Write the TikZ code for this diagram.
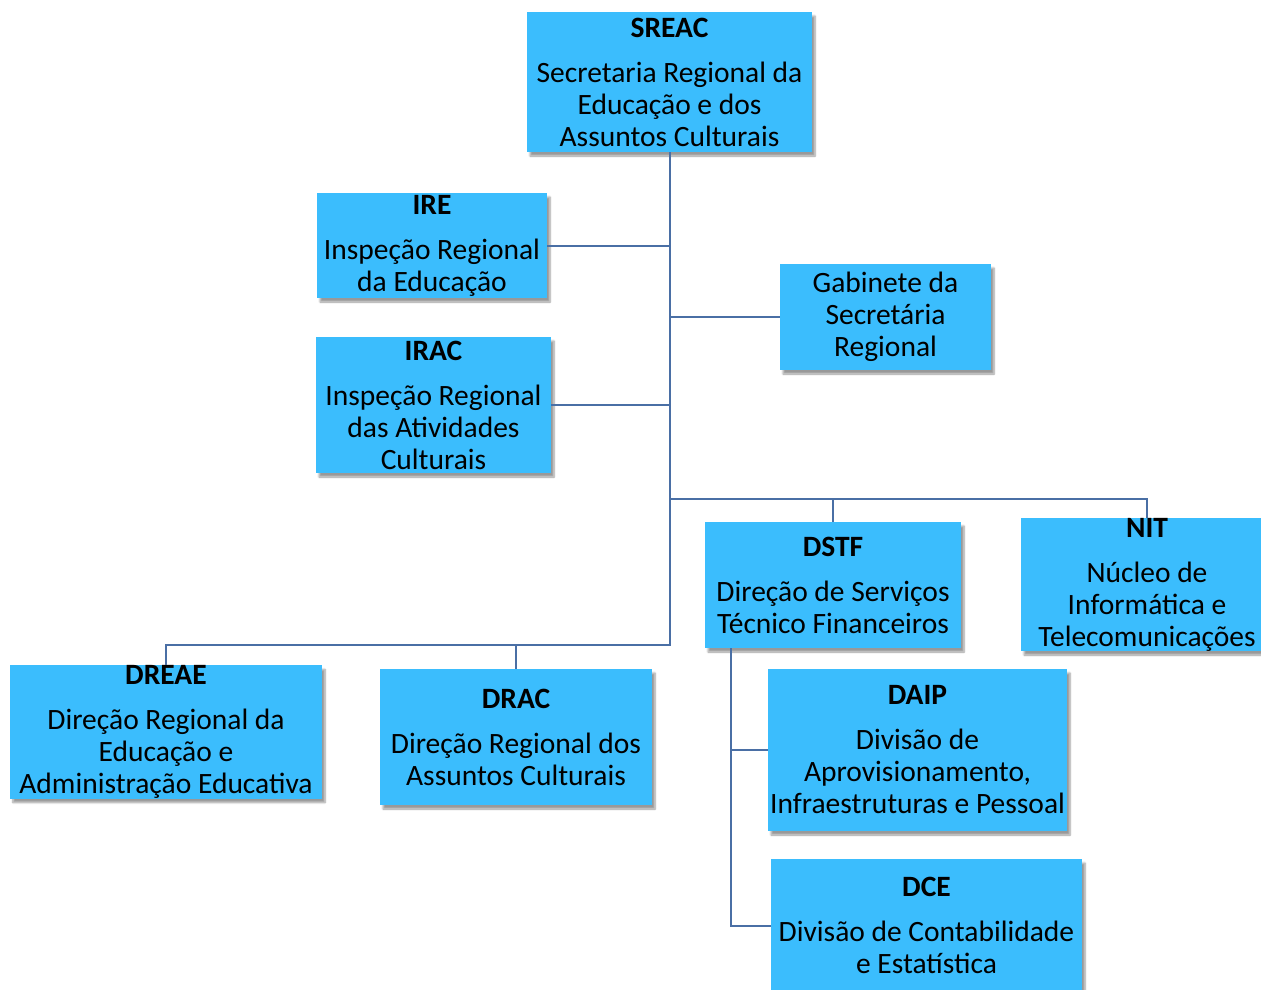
\documentclass[tikz,border=0pt]{standalone}
\usepackage{fontspec}
\setmainfont{Carlito}
\usetikzlibrary{shadows.blur}
\definecolor{boxblue}{RGB}{59,189,253}
\definecolor{linkblue}{RGB}{74,111,165}
\begin{document}
\begin{tikzpicture}[x=1pt, y=-1pt,
	unit/.style={rectangle, fill=boxblue, align=center, inner sep=0pt,
		font=\fontsize{29.5}{32}\selectfont,
		blur shadow={shadow xshift=3pt, shadow yshift=-4pt, shadow blur steps=6, shadow opacity=40}},
	link/.style={draw=linkblue, line width=2pt}]
	\useasboundingbox (0,0) rectangle (1261,990);

	\node (sreac) [unit, minimum width=285pt, minimum height=140pt] at (669.5,82) {\textbf{SREAC}\\[13pt]Secretaria Regional da\\Educação e dos\\Assuntos Culturais};
	\node (ire) [unit, minimum width=230pt, minimum height=105pt] at (432,245.5) {\textbf{IRE}\\[13pt]Inspeção Regional\\da Educação};
	\node (irac) [unit, minimum width=235pt, minimum height=136pt] at (433.5,405) {\textbf{IRAC}\\[13pt]Inspeção Regional\\das Atividades\\Culturais};
	\node (gab) [unit, minimum width=211pt, minimum height=106pt] at (885.5,317) {Gabinete da\\Secretária\\Regional};
	\node (dstf) [unit, minimum width=256pt, minimum height=126pt] at (833,585) {\textbf{DSTF}\\[13pt]Direção de Serviços\\Técnico Financeiros};
	\node (nit) [unit, minimum width=252pt, minimum height=127pt] at (1147,584.5) {\textbf{NIT}\\[13pt]Núcleo de\\Informática e\\Telecomunicações};
	\node (dreae) [unit, minimum width=312pt, minimum height=132pt] at (166,732) {\textbf{DREAE}\\[13pt]Direção Regional da\\Educação e\\Administração Educativa};
	\node (drac) [unit, minimum width=272pt, minimum height=136pt] at (516,737) {\textbf{DRAC}\\[13pt]Direção Regional dos\\Assuntos Culturais};
	\node (daip) [unit, minimum width=299pt, minimum height=162pt] at (917.5,750) {\textbf{DAIP}\\[13pt]Divisão de\\Aprovisionamento,\\Infraestruturas e Pessoal};
	\node (dce) [unit, minimum width=311pt, minimum height=133pt] at (926.5,925.5) {\textbf{DCE}\\[13pt]Divisão de Contabilidade\\e Estatística};

	\coordinate (hub) at (669.5,499);
	\coordinate (low) at (669.5,645);
	\coordinate (sub) at (731,648);

	\draw[link] (sreac.south) -- (low) -| (dreae.north);
	\draw[link] (ire.east) -- (ire.east -| sreac.south);
	\draw[link] (irac.east) -- (irac.east -| sreac.south);
	\draw[link] (gab.west) -- (gab.west -| sreac.south);
	\draw[link] (hub) -| (nit.north);
	\draw[link] (hub -| dstf.north) -- (dstf.north);
	\draw[link] (low -| drac.north) -- (drac.north);
	\draw[link] (sub) |- (dce.west);
	\draw[link] (sub |- daip.west) -- (daip.west);
\end{tikzpicture}
\end{document}
